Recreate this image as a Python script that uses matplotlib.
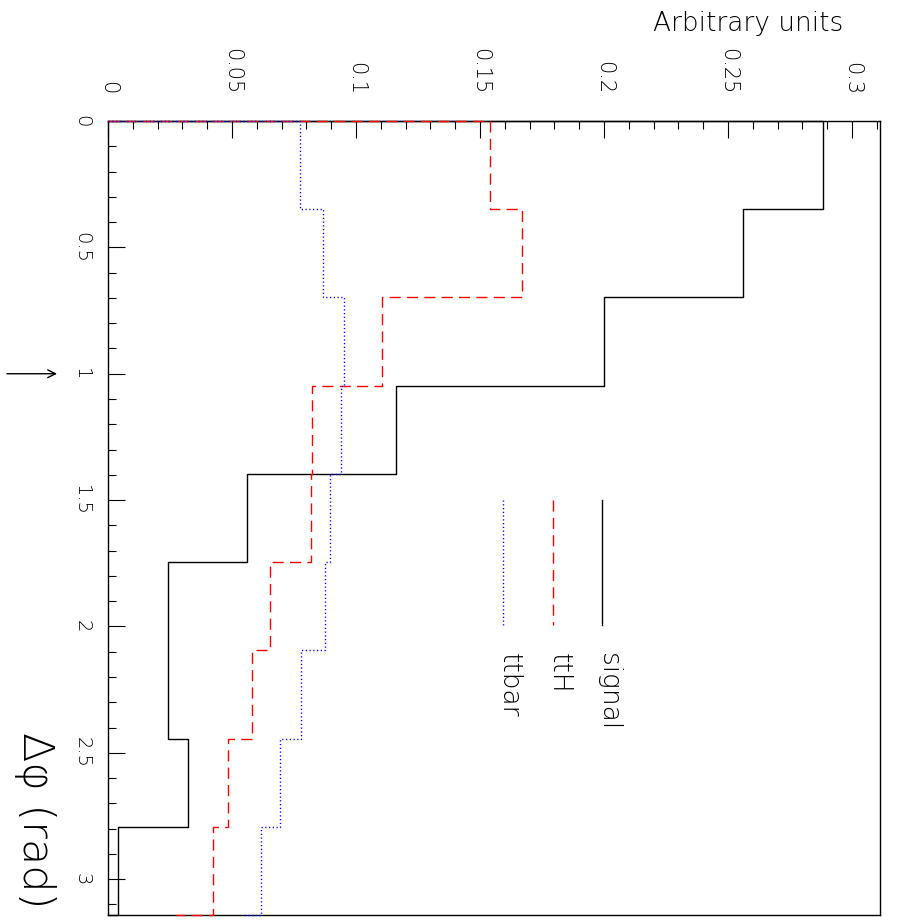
import numpy as np
import matplotlib
matplotlib.use("Agg")
import matplotlib.pyplot as plt
from matplotlib.ticker import MultipleLocator

# histogram content, 9 bins in delta phi from 0 to pi
n_bins = 9
edges = np.linspace(0, np.pi, n_bins + 1)

signal = [0.2882, 0.2560, 0.2000, 0.1161, 0.0562, 0.0242, 0.0242, 0.0321, 0.0039]
tth = [0.1542, 0.1671, 0.1105, 0.0821, 0.0820, 0.0652, 0.0582, 0.0483, 0.0425]
ttbar = [0.0774, 0.0867, 0.0950, 0.0938, 0.0897, 0.0875, 0.0778, 0.0695, 0.0618]
# where each outline ends on the lower frame edge
tails = [0.0, 0.0273, 0.0542]

names = ["signal", "ttH", "ttbar"]
series = [signal, tth, ttbar]

unit_ticks = [0, 0.05, 0.1, 0.15, 0.2, 0.25, 0.3]
unit_labels = ["0", "0.05", "0.1", "0.15", "0.2", "0.25", "0.3"]
dphi_ticks = [0, 0.5, 1, 1.5, 2, 2.5, 3]
dphi_labels = ["0", "0.5", "1", "1.5", "2", "2.5", "3"]
cut_value = 1.0

colors = ["black", "#ff0000", "#0000ff"]
styles = [dict(linestyle="-"), dict(dashes=(8, 4.5)), dict(dashes=(0.9, 1.8))]

plt.rcParams['font.family'] = ['DejaVu Sans']
plt.rcParams['font.weight'] = 'ultralight'

W, H = 905, 921
fig = plt.figure(figsize=(W / 100, H / 100), dpi=100)
ax = fig.add_axes([108 / W, 1 - 915 / H, (880 - 108) / W, (915 - 121) / H])


def outline(values, tail):
    x = np.concatenate([[0.0], np.repeat(values, 2), [tail]])
    y = np.repeat(edges, 2)
    return x, y


for vals, tail, col, st in zip(series, tails, colors, styles):
    x, y = outline(vals, tail)
    ax.plot(x, y, color=col, lw=1.0, clip_on=False, zorder=3, **st)

ax.set_xlim(0, 0.3113)
ax.set_ylim(np.pi, 0)

for side in ["top", "bottom", "left", "right"]:
    ax.spines[side].set_linewidth(1.0)

ax.xaxis.tick_top()
ax.set_xticks(unit_ticks)
ax.set_xticklabels(unit_labels)
ax.xaxis.set_minor_locator(MultipleLocator(0.01))
ax.set_yticks(dphi_ticks)
ax.set_yticklabels(dphi_labels)
ax.yaxis.set_minor_locator(MultipleLocator(0.1))

ax.tick_params(axis='x', which='both', direction='in', top=True, bottom=False,
               labeltop=True, labelbottom=False, width=0.8)
ax.tick_params(axis='x', which='major', length=12, labelsize=15, labelrotation=-90, pad=19)
ax.tick_params(axis='x', which='minor', length=6)
ax.tick_params(axis='y', which='both', direction='in', left=True, right=False, width=0.8)
ax.tick_params(axis='y', which='major', length=12, labelsize=14, labelrotation=-90, pad=12)
ax.tick_params(axis='y', which='minor', length=6)
for lab in ax.get_xticklabels():
    lab.set_rotation_mode('default')
    lab.set_ha('center')
    lab.set_va('bottom')
for lab in ax.get_yticklabels():
    lab.set_rotation_mode('default')
    lab.set_ha('right')
    lab.set_va('center')

# axis titles
fig.text(843 / W, 1 - 31 / H, "Arbitrary units", fontsize=19, ha='right', va='baseline')
fig.text(23 / W, 1 - 908 / H, "Δφ (rad)", fontsize=31, rotation=-90,
         rotation_mode='anchor', ha='right', va='baseline')

# cut arrow
ax.annotate("", xy=(-0.066, cut_value), xytext=(-0.131, cut_value),
            xycoords=('axes fraction', 'data'), textcoords=('axes fraction', 'data'),
            arrowprops=dict(arrowstyle='->', lw=1.0, color='black', mutation_scale=14,
                            shrinkA=0, shrinkB=0),
            annotation_clip=False)

# legend
leg_x = [0.640, 0.576, 0.512]
for lx, name, col, st in zip(leg_x, names, colors, styles):
    ax.plot([lx, lx], [0.523, 0.365], transform=ax.transAxes, color=col, lw=1.0,
            clip_on=False, **st)
    ax.text(lx - 0.002, 0.330, name, transform=ax.transAxes, fontsize=19, rotation=-90,
            rotation_mode='anchor', ha='left', va='baseline')

fig.savefig("out.png", dpi=100)
